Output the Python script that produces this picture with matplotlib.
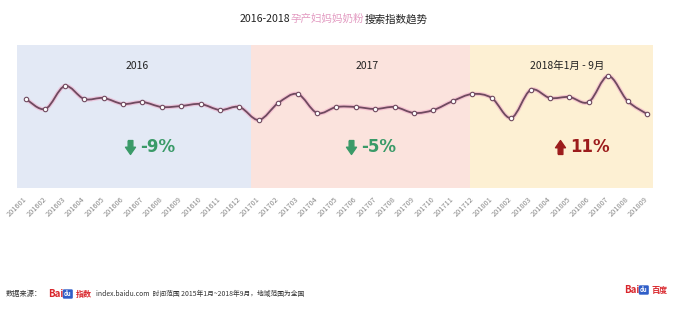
import numpy as np
import matplotlib
matplotlib.use('Agg')
import matplotlib.pyplot as plt
from matplotlib.path import Path
from matplotlib.patches import PathPatch
from matplotlib.transforms import offset_copy

plt.rcParams['font.family'] = ['Noto Sans CJK SC', 'DejaVu Sans']

# Data: monthly Baidu search index (relative values)
months = ['201601', '201602', '201603', '201604', '201605', '201606', '201607', '201608',
          '201609', '201610', '201611', '201612', '201701', '201702', '201703', '201704',
          '201705', '201706', '201707', '201708', '201709', '201710', '201711', '201712',
          '201801', '201802', '201803', '201804', '201805', '201806', '201807', '201808',
          '201809']
index_values = [31, 21, 44, 31, 32, 26, 28, 23, 24, 26, 20, 23, 10, 27, 36, 17,
                23, 23, 21, 23, 17, 20, 29, 36, 32, 12, 40, 32, 33, 28, 54, 29, 16]

period_names = ['2016', '2017', '2018年1月 - 9月']
period_edges = [-0.46, 11.6, 22.9, 32.31]
period_colors = ['#e3e9f5', '#fbe3dd', '#fdf0d3']
period_label_x = [5.75, 17.6, 27.9]
changes = ['-9%', '-5%', '11%']
change_x = [5.36, 16.77, 27.52]

W, H = 680, 315
fig = plt.figure(figsize=(W / 100, H / 100), dpi=100)
fig.patch.set_facecolor('white')

# axes placed so the panel covers x 17..653 px, y 45..188 px
ax = fig.add_axes([17 / W, 1 - 188 / H, 636 / W, 143 / H])
ax.set_xlim(period_edges[0], period_edges[-1])
ax.set_ylim(-58, 85)
for s in ax.spines.values():
    s.set_visible(False)
ax.set_yticks([])

for i in range(3):
    ax.axvspan(period_edges[i], period_edges[i + 1], color=period_colors[i], lw=0, zorder=0)
    ax.text(period_label_x[i], 64, period_names[i], ha='center', va='center',
            fontsize=7.5, color='#222222')

# smooth line (Catmull-Rom as bezier segments)
x = np.arange(len(index_values), dtype=float)
y = np.array(index_values, dtype=float)
pts = np.column_stack([x, y])
verts = [pts[0]]
codes = [Path.MOVETO]
n = len(pts)
for i in range(n - 1):
    p0 = pts[max(i - 1, 0)]
    p1 = pts[i]
    p2 = pts[i + 1]
    p3 = pts[min(i + 2, n - 1)]
    verts += [p1 + (p2 - p0) / 6, p2 - (p3 - p1) / 6, p2]
    codes += [Path.CURVE4] * 3
curve = Path(verts, codes)
ax.add_patch(PathPatch(curve, fill=False, ec='#f0a8c8', lw=3.0, alpha=0.55, zorder=2))
ax.add_patch(PathPatch(curve, fill=False, ec='#6f4a5f', lw=1.3, zorder=3))
ax.plot(x, y, ls='none', marker='o', ms=3.2, mfc='white', mec='#6f4a5f', mew=0.8, zorder=4)

# change labels with arrows
down = Path([(-0.17, 0.5), (0.17, 0.5), (0.17, 0.02), (0.36, 0.02), (0.0, -0.5),
             (-0.36, 0.02), (-0.17, 0.02), (-0.17, 0.5)])
up = Path([(vx, -vy) for vx, vy in down.vertices])
for i, txt in enumerate(changes):
    if txt.startswith('-'):
        col, mk = '#3a9a68', down
    else:
        col, mk = '#9c1c1c', up
    ax.plot(change_x[i], -16.5, ls='none', marker=mk, ms=10, color=col, zorder=5)
    ax.text(change_x[i] + 0.5, -17, txt, ha='left', va='center', fontsize=12,
            fontweight='bold', color=col, family='DejaVu Sans')

ax.set_xticks(x)
ax.set_xticklabels(months, rotation=45, ha='right', va='center',
                   rotation_mode='anchor', fontsize=5.3, color='#8a8a8a')
ax.tick_params(axis='x', length=0, pad=7)

# title in three colours, chained one after another
parts = [('2016-2018', '#222222'), ('孕产妇妈妈奶粉', '#e39cc2'), ('搜索指数趋势', '#222222')]
renderer = fig.canvas.get_renderer()
tx = 240
for s, c in parts:
    t = fig.text(tx / W, 1 - 19 / H, s, ha='left', va='center', fontsize=7.6, color=c)
    tx += t.get_window_extent(renderer).width

# footer
fy = 1 - 294 / H
fig.text(6 / W, fy, '数据来源：', ha='left', va='center', fontsize=5.2, color='#333333')
fig.text(48 / W, fy, 'Bai', ha='left', va='center', fontsize=7, fontweight='bold', color='#d9262c')
fig.text(64 / W, fy, 'du', ha='left', va='center', fontsize=4.3, fontweight='bold', color='white',
         bbox=dict(boxstyle='round,pad=0.2', fc='#2f5ec8', ec='none'))
fig.text(76 / W, fy, '指数', ha='left', va='center', fontsize=5.8, fontweight='bold', color='#d9262c')
fig.text(96 / W, fy, 'index.baidu.com  时间范围 2015年1月~2018年9月，地域范围为全国',
         ha='left', va='center', fontsize=4.9, color='#333333')

ry = 1 - 290 / H
fig.text(624 / W, ry, 'Bai', ha='left', va='center', fontsize=7, fontweight='bold', color='#d9262c')
fig.text(640 / W, ry, 'du', ha='left', va='center', fontsize=4.3, fontweight='bold', color='white',
         bbox=dict(boxstyle='round,pad=0.2', fc='#2f5ec8', ec='none'))
fig.text(651 / W, ry, '百度', ha='left', va='center', fontsize=5.8, fontweight='bold', color='#d9262c')

fig.savefig('out.png', dpi=100, facecolor='white')
